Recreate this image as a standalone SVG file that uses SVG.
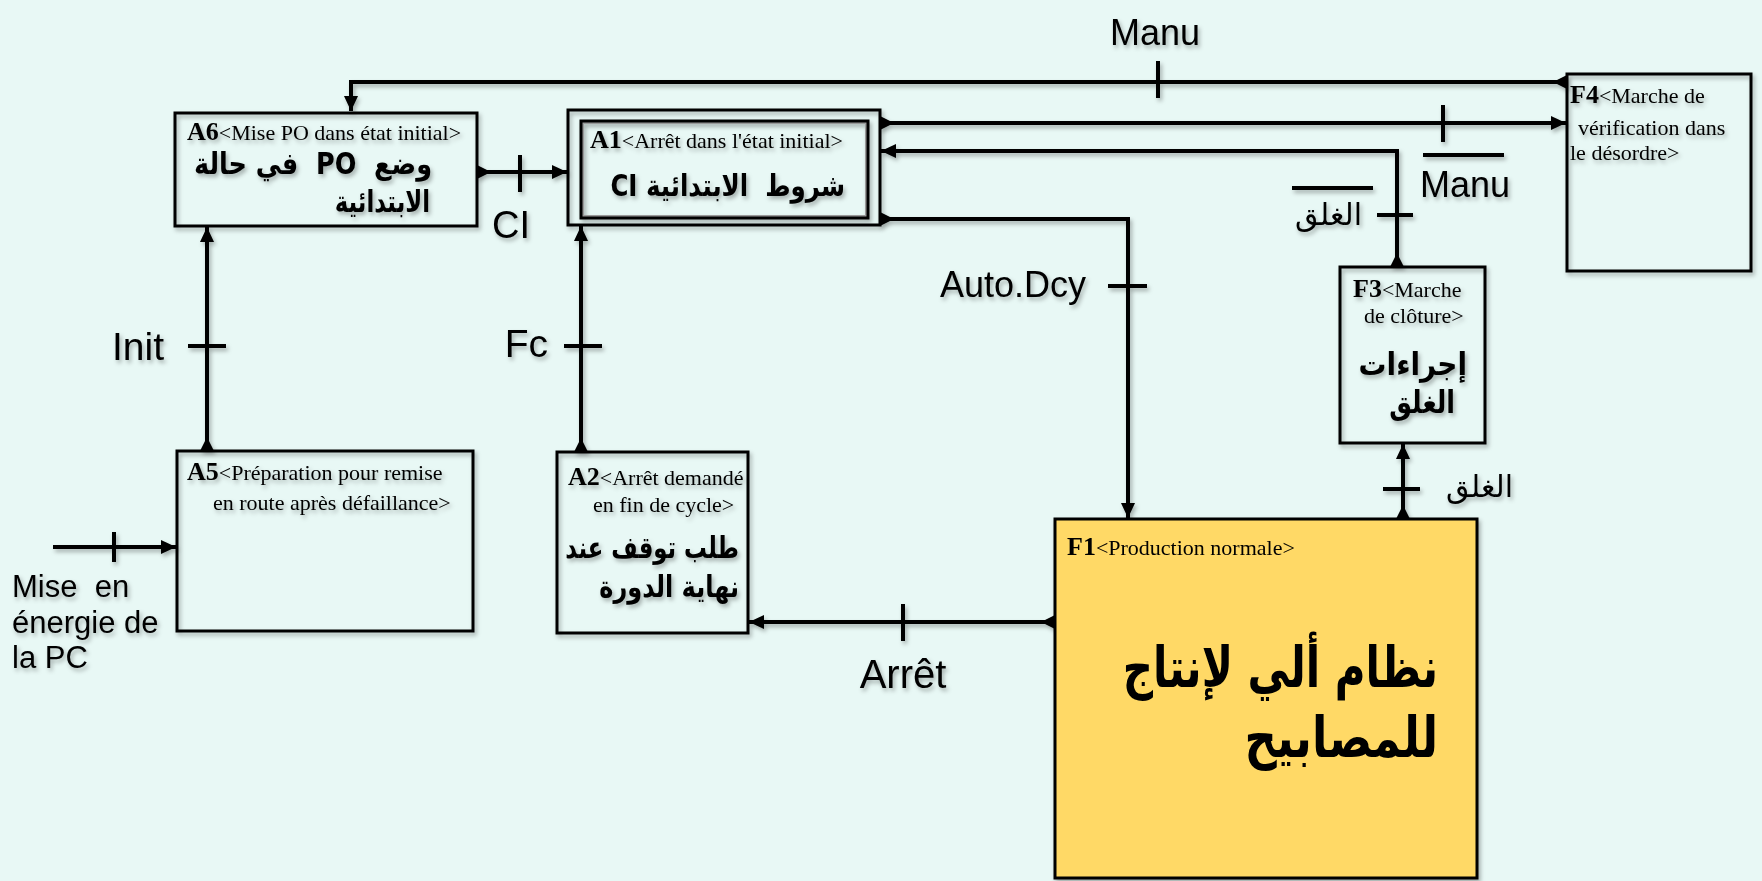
<svg xmlns="http://www.w3.org/2000/svg" width="1762" height="881" viewBox="0 0 1762 881">
<defs>
<style>
.box{fill:none;stroke:#000;stroke-width:3}
.ln{fill:none;stroke:#000;stroke-width:4}
.tk{stroke:#000;stroke-width:4}
.code{font-family:"Liberation Serif",serif;font-weight:bold;font-size:26px}
.sm{font-family:"Liberation Serif",serif;font-size:22px;font-weight:normal}
.lat{font-family:"Liberation Sans",Arial,sans-serif;fill:#000;white-space:pre}
.ar{font-family:"DejaVu Sans",sans-serif;font-weight:bold;fill:#000;white-space:pre}
.arn{font-family:"DejaVu Sans",sans-serif;font-weight:normal;fill:#000}
</style>
<marker id="arr" viewBox="0 0 15 14" refX="15" refY="7" markerWidth="15" markerHeight="14" markerUnits="userSpaceOnUse" orient="auto"><path d="M0,0 L15,7 L0,14 Z" fill="#000"/></marker>
<marker id="st" viewBox="0 0 14 14" refX="0" refY="7" markerWidth="14" markerHeight="14" markerUnits="userSpaceOnUse" orient="auto"><path d="M0,0 L14,7 L0,14 Z" fill="#000"/></marker>
<filter id="sh" x="-10%" y="-10%" width="130%" height="130%"><feDropShadow dx="2" dy="3" stdDeviation="2" flood-color="#000" flood-opacity="0.3"/></filter>
</defs>
<rect x="0" y="0" width="1762" height="881" fill="#E8F8F5"/>

<g id="connectors" filter="url(#sh)">
<path class="ln" d="M1567,82 L351,82 L351,111" marker-start="url(#st)" marker-end="url(#arr)"/>
<line class="tk" x1="1158" y1="61" x2="1158" y2="98"/>
<text class="lat" x="1155" y="45" font-size="36" text-anchor="middle">Manu</text>

<path class="ln" d="M880,123 L1566,123" marker-start="url(#st)" marker-end="url(#arr)"/>
<line class="tk" x1="1443" y1="105" x2="1443" y2="142"/>
<line class="tk" x1="1423" y1="155" x2="1504" y2="155"/>
<text class="lat" x="1420" y="197" font-size="36">Manu</text>

<path class="ln" d="M1397,267 L1397,151 L881,151" marker-start="url(#st)" marker-end="url(#arr)"/>
<line class="tk" x1="1377" y1="215" x2="1413" y2="215"/>
<line class="tk" x1="1292" y1="188" x2="1373" y2="188"/>
<text class="arn" x="1362" y="225" font-size="30" text-anchor="end">الغلق</text>

<path class="ln" d="M880,219 L1128,219 L1128,518" marker-start="url(#st)" marker-end="url(#arr)"/>
<line class="tk" x1="1108" y1="286" x2="1147" y2="286"/>
<text class="lat" x="1086" y="297" font-size="36" text-anchor="end">Auto.Dcy</text>

<path class="ln" d="M1403,519 L1403,444" marker-start="url(#st)" marker-end="url(#arr)"/>
<line class="tk" x1="1383" y1="489" x2="1420" y2="489"/>
<text class="arn" x="1513" y="497" font-size="30" text-anchor="end">الغلق</text>

<path class="ln" d="M1055,622 L749,622" marker-start="url(#st)" marker-end="url(#arr)"/>
<line class="tk" x1="903" y1="604" x2="903" y2="641"/>
<text class="lat" x="903" y="688" font-size="40" text-anchor="middle">Arrêt</text>

<path class="ln" d="M581,452 L581,226" marker-start="url(#st)" marker-end="url(#arr)"/>
<line class="tk" x1="564" y1="346" x2="602" y2="346"/>
<text class="lat" x="548" y="357" font-size="39" text-anchor="end">Fc</text>

<path class="ln" d="M207,451 L207,227" marker-start="url(#st)" marker-end="url(#arr)"/>
<line class="tk" x1="188" y1="346" x2="226" y2="346"/>
<text class="lat" x="164" y="360" font-size="39" text-anchor="end">Init</text>

<path class="ln" d="M477,172 L567,172" marker-start="url(#st)" marker-end="url(#arr)"/>
<line class="tk" x1="520" y1="155" x2="520" y2="192"/>
<text class="lat" x="492" y="238" font-size="38">CI</text>

<path class="ln" d="M53,547 L176,547" marker-end="url(#arr)"/>
<line class="tk" x1="114" y1="532" x2="114" y2="562"/>
<text class="lat" font-size="31"><tspan x="12" y="597">Mise  en</tspan><tspan x="12" y="633">énergie de</tspan><tspan x="12" y="668">la PC</tspan></text>
</g>

<g id="A6" filter="url(#sh)">
<rect class="box" x="175" y="113" width="302" height="113"/>
<text x="187" y="140"><tspan class="code">A6</tspan><tspan class="sm">&lt;Mise PO dans état initial&gt;</tspan></text>
<text class="ar" transform="translate(432,174) scale(0.85,1)" x="0" y="0" font-size="30" direction="rtl" text-anchor="start">وضع  PO  في حالة</text>
<text class="ar" transform="translate(430,212) scale(0.76,1)" x="0" y="0" font-size="30" direction="rtl" text-anchor="start">الابتدائية</text>
</g>

<g id="A1" filter="url(#sh)">
<rect class="box" x="568" y="110" width="312" height="115" stroke-width="2.5"/>
<rect x="583" y="123" width="283" height="93" fill="none" stroke="#999" stroke-width="2"/>
<rect class="box" x="581" y="121" width="287" height="97"/>
<text x="590" y="148"><tspan class="code">A1</tspan><tspan class="sm">&lt;Arrêt dans l'état initial&gt;</tspan></text>
<text class="ar" transform="translate(845,196) scale(0.815,1)" x="0" y="0" font-size="30" direction="rtl" text-anchor="start">شروط  الابتدائية CI</text>
</g>

<g id="F4" filter="url(#sh)">
<rect class="box" x="1567" y="74" width="184" height="197"/>
<text><tspan class="code" x="1570" y="103">F4</tspan><tspan class="sm">&lt;Marche de</tspan><tspan class="sm" x="1578" y="135">vérification dans</tspan><tspan class="sm" x="1570" y="160">le désordre&gt;</tspan></text>
</g>

<g id="F3" filter="url(#sh)">
<rect class="box" x="1340" y="267" width="145" height="176"/>
<text><tspan class="code" x="1353" y="297">F3</tspan><tspan class="sm">&lt;Marche</tspan><tspan class="sm" x="1364" y="323">de clôture&gt;</tspan></text>
<text class="ar" transform="translate(1467,375) scale(0.9,1)" x="0" y="0" font-size="31" text-anchor="end">إجراءات</text>
<text class="ar" transform="translate(1455,413) scale(0.82,1)" x="0" y="0" font-size="31" text-anchor="end">الغلق</text>
</g>

<g id="A5" filter="url(#sh)">
<rect class="box" x="177" y="451" width="296" height="180"/>
<text><tspan class="code" x="187" y="480">A5</tspan><tspan class="sm">&lt;Préparation pour remise</tspan><tspan class="sm" x="213" y="510">en route après défaillance&gt;</tspan></text>
</g>

<g id="A2" filter="url(#sh)">
<rect class="box" x="557" y="452" width="191" height="181"/>
<text><tspan class="code" x="568" y="485">A2</tspan><tspan class="sm">&lt;Arrêt demandé</tspan><tspan class="sm" x="593" y="512">en fin de cycle&gt;</tspan></text>
<text class="ar" transform="translate(739,558) scale(0.76,1)" x="0" y="0" font-size="30" text-anchor="end">طلب توقف عند</text>
<text class="ar" transform="translate(739,597) scale(0.8,1)" x="0" y="0" font-size="30" text-anchor="end">نهاية الدورة</text>
</g>

<g id="F1" filter="url(#sh)">
<rect x="1055" y="519" width="422" height="359" fill="#FFD966" stroke="#000" stroke-width="3"/>
<text x="1067" y="555"><tspan class="code">F1</tspan><tspan class="sm">&lt;Production normale&gt;</tspan></text>
<text class="ar" transform="translate(1438,687) scale(0.75,1)" x="0" y="0" font-size="56" text-anchor="end">نظام ألي لإنتاج</text>
<text class="ar" transform="translate(1438,757) scale(0.8,1)" x="0" y="0" font-size="56" text-anchor="end">للمصابيح</text>
</g>
</svg>
